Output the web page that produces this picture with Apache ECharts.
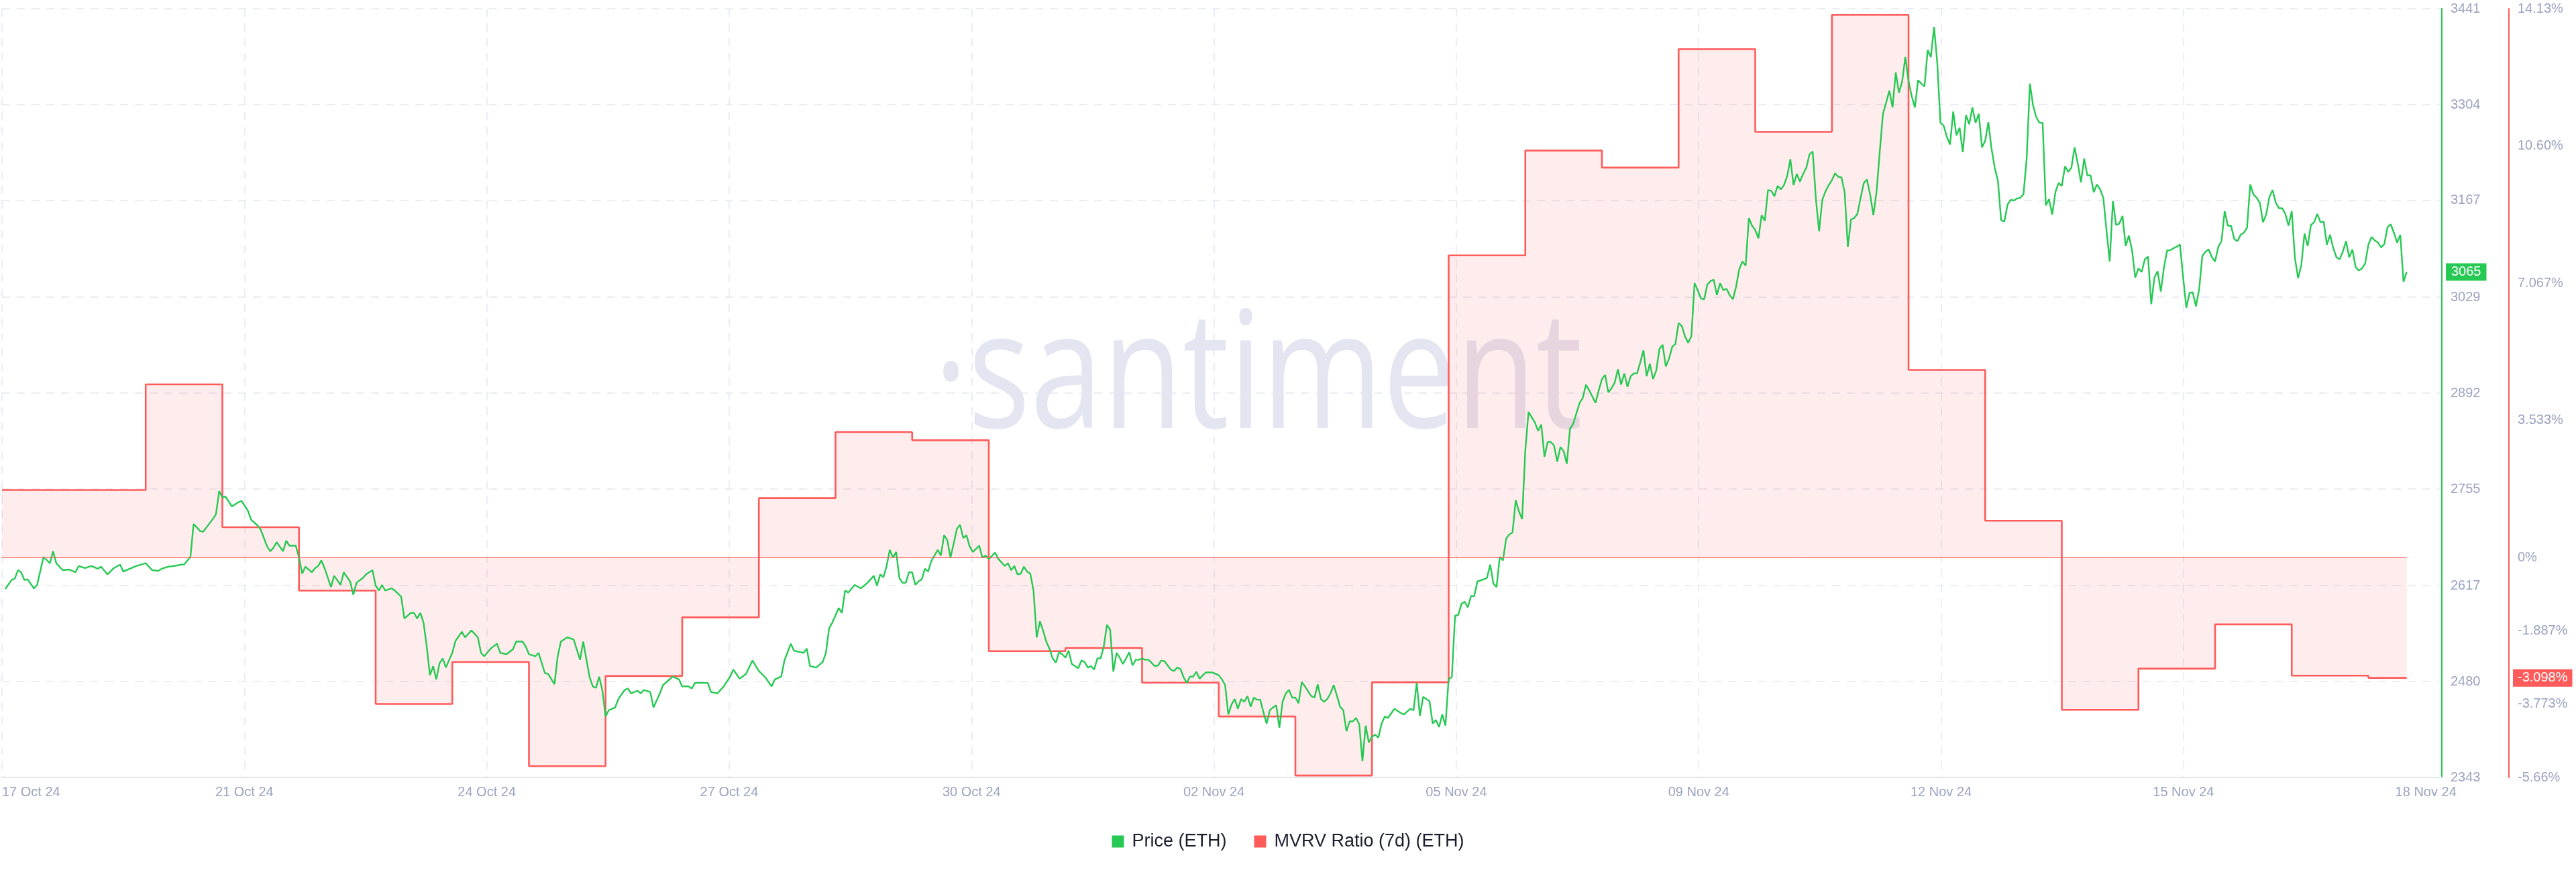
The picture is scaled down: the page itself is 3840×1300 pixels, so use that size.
<!DOCTYPE html>
<html>
<head>
<meta charset="utf-8">
<script src="https://cdn.jsdelivr.net/npm/echarts@6/dist/echarts.min.js"></script>
<style>
  html, body { margin: 0; padding: 0; background: #ffffff; }
  #chart { width: 3840px; height: 1300px; }
</style>
</head>
<body>
<div id="chart"></div>
<script>
// ---------- DATA ----------
// x axis: hours since chart start (17 Oct 24, evening)
const xTickLabels = ['17 Oct 24', '21 Oct 24', '24 Oct 24', '27 Oct 24', '30 Oct 24', '02 Nov 24',
                     '05 Nov 24', '09 Nov 24', '12 Nov 24', '15 Nov 24', '18 Nov 24'];
const xTickStepHours = 75.9;
const xEndHours = 764;

const priceTicks = [2343, 2480, 2617, 2755, 2892, 3029, 3167, 3304, 3441];
const mvrvTicks = [-5.66, -3.773, -1.887, 0, 3.533, 7.067, 10.60, 14.13];
const mvrvTickLabels = ['-5.66%', '-3.773%', '-1.887%', '0%', '3.533%', '7.067%', '10.60%', '14.13%'];

// Price (ETH): [hour, USD]
const pricePoints = [
[1,2612],[3,2625],[4,2627],[5,2639],[6,2636],[7,2625],[8,2626],[10,2613],[11,2618],[13,2658],[15,2649],[16,2666],[17,2649],[19,2639],[21,2640],[23,2636],[24,2645],[26,2642],[28,2645],[30,2641],[31,2644],[33,2633],[35,2642],[37,2647],[38,2637],[40,2641],[42,2645],[45,2649],[47,2639],[49,2638],[50,2641],[52,2644],[54,2645],[56,2647],[57,2647],[59,2658],
[60,2705],[62,2695],[63,2694],[64,2700],[66,2712],[67,2719],[68,2752],[69,2743],[70,2744],[72,2730],[74,2736],[75,2738],[77,2724],[78,2711],[80,2703],[81,2697],[83,2673],[84,2666],[85,2671],[86,2679],[88,2666],[89,2681],[90,2674],[92,2674],[93,2657],[94,2634],[95,2644],[97,2636],[98,2642],[99,2645],[100,2653],[101,2642],[103,2615],[104,2631],[106,2618],[107,2636],[109,2623],[110,2604],[111,2621],[113,2628],[114,2633],[116,2639],[117,2617],[118,2610],[119,2618],[120,2610],[122,2613],[123,2610],[125,2601],[126,2570],[128,2578],[129,2578],[130,2570],[131,2578],[132,2564],[133,2530],[134,2489],[135,2502],[136,2483],[137,2506],[138,2513],[139,2500],
[141,2521],[142,2538],[144,2551],[145,2543],[147,2553],[149,2543],[150,2521],[151,2516],[153,2527],[155,2534],[156,2521],[158,2519],[160,2526],[161,2537],[163,2537],[164,2530],[165,2519],[167,2516],[168,2521],[170,2492],[171,2491],[173,2476],[174,2516],[175,2537],[177,2543],[179,2540],[181,2511],[182,2537],[184,2486],[185,2473],[186,2471],[187,2487],[188,2467],[189,2430],[190,2439],[192,2443],[193,2455],[195,2468],[196,2470],[197,2463],[199,2467],[200,2463],[201,2468],[203,2465],[204,2443],[206,2463],[207,2475],[209,2483],[210,2487],[212,2483],[213,2473],[215,2473],[216,2470],[217,2478],[219,2478],[221,2478],[222,2465],[224,2463],[226,2473],[228,2487],[229,2497],[231,2484],[233,2491],[235,2510],[237,2495],[239,2486],
[241,2473],[242,2483],[244,2487],[245,2510],[247,2534],[248,2524],[251,2521],[252,2527],[253,2502],[255,2500],[257,2508],[258,2521],[259,2556],[260,2564],[262,2585],[263,2578],[264,2610],[265,2607],[267,2618],[269,2613],[271,2621],[273,2631],
[274,2617],[275,2633],[276,2629],[277,2645],[278,2668],[279,2657],[280,2665],[281,2628],[282,2621],[283,2621],[284,2636],[285,2636],[286,2618],[287,2623],[288,2626],[289,2641],[290,2637],[291,2652],[293,2668],[294,2660],[295,2689],[296,2682],[297,2657],[298,2677],[299,2698],[300,2704],[301,2685],[302,2689],[303,2673],[304,2665],[306,2674],[307,2657],[308,2660],[309,2655],[311,2664],[312,2655],[314,2645],[315,2649],[316,2639],[317,2645],[318,2633],[319,2634],[320,2644],[321,2637],[322,2634],[323,2610],
[324,2543],[325,2566],[326,2553],[327,2537],[328,2527],[329,2513],[330,2507],[331,2522],[332,2519],[333,2514],[334,2524],[335,2505],[336,2502],[337,2499],[338,2510],[339,2508],[340,2500],[341,2502],[342,2497],[343,2513],[344,2513],[345,2530],[346,2561],[347,2554],[348,2494],[349,2521],[350,2514],[351,2505],[352,2513],[353,2522],[354,2503],[355,2511],[356,2511],[357,2513],[358,2511],[359,2511],[361,2502],[362,2503],[363,2510],[364,2509],[365,2503],[366,2497],[367,2495],[368,2500],[369,2498],[370,2486],[371,2478],[372,2487],[373,2487],[374,2494],[375,2484],[376,2489],[377,2493],[379,2493],[381,2489],[382,2483],[383,2475],
[384,2433],[385,2447],[386,2455],[387,2441],[388,2455],[389,2451],[390,2459],[391,2444],[392,2457],[393,2454],[394,2454],[395,2436],[396,2420],[397,2439],[398,2443],[399,2446],[400,2414],[401,2451],[402,2463],[403,2468],[404,2457],[405,2457],[406,2449],[407,2479],[408,2473],[410,2459],[411,2457],[412,2476],[413,2455],[414,2451],[415,2455],[416,2463],[417,2475],[418,2460],[419,2444],[420,2439],[421,2409],[422,2423],[423,2423],[424,2428],[425,2419],[426,2366],[427,2417],[428,2393],[429,2401],[430,2404],[431,2400],[432,2420],[433,2430],[434,2428],[436,2441],[437,2438],[438,2435],[439,2433],[441,2441],[442,2439],[443,2478],[444,2431],[445,2458],[446,2455],[447,2452],[448,2420],[449,2425],[450,2415],[451,2433],[452,2417],
[453,2484],[454,2486],[455,2574],[456,2575],[457,2591],[458,2594],[459,2586],[460,2602],[461,2602],[462,2623],[464,2626],[465,2628],[466,2647],[467,2620],[468,2615],[469,2658],[470,2653],[471,2684],
[472,2690],[473,2693],[474,2739],[475,2723],[476,2712],[477,2810],[478,2865],[480,2850],[481,2838],[482,2847],[483,2801],[484,2822],[485,2822],[486,2817],[487,2794],[488,2815],[489,2809],[490,2791],[491,2841],[492,2848],[494,2878],[495,2885],[496,2904],[497,2896],[499,2878],[500,2896],[501,2912],[502,2918],[503,2893],[504,2899],[505,2907],[506,2926],[507,2904],[508,2920],[509,2901],[510,2916],[511,2920],[512,2920],[513,2936],[514,2953],[515,2916],[516,2934],[517,2912],[518,2924],[519,2955],[520,2961],[521,2930],[522,2941],[523,2958],[524,2962],[525,2992],[526,2988],[527,2973],[528,2964],[529,2973],
[530,3049],[531,3039],[532,3027],[533,3026],[534,3047],[535,3052],[536,3054],[537,3032],[538,3049],[539,3039],[540,3041],[541,3032],[542,3026],[543,3044],[544,3069],[545,3080],[546,3074],[547,3142],[548,3131],[549,3125],[550,3113],[551,3146],[552,3138],[553,3182],[554,3181],[555,3173],[556,3188],[557,3183],[558,3189],[559,3202],[560,3226],[561,3189],[562,3205],[563,3194],[564,3205],[565,3214],[566,3233],[567,3237],[568,3169],[569,3123],[570,3168],[571,3180],[572,3189],[573,3196],[574,3206],[575,3201],[576,3200],[577,3179],[578,3101],[579,3140],[580,3142],[581,3148],[582,3171],[583,3192],[584,3197],[585,3175],[586,3146],[587,3180],[588,3237],[589,3291],[590,3307],
[591,3324],[592,3300],[593,3350],[594,3321],[595,3337],[596,3372],[597,3338],[598,3316],[599,3300],[600,3339],[601,3334],[602,3330],[603,3382],[604,3372],[605,3415],[606,3364],[607,3278],[608,3274],[609,3258],[610,3247],[611,3294],[612,3260],[613,3271],[614,3236],[615,3289],[616,3276],[617,3300],[618,3278],[619,3291],[620,3243],[621,3252],[622,3279],[623,3241],[624,3214],[625,3195],[626,3139],[627,3137],[628,3161],[629,3168],[630,3167],[631,3170],[632,3171],[633,3176],[634,3227],[635,3334],[636,3303],[637,3286],[638,3278],[639,3278],
[640,3160],[641,3169],[642,3147],[643,3179],[644,3192],[645,3188],[646,3216],[647,3208],[648,3214],[649,3243],[650,3220],[651,3193],[652,3227],[653,3203],[654,3203],[655,3179],[656,3190],[657,3183],[658,3171],[659,3124],[660,3080],[661,3166],[662,3132],[663,3134],[664,3145],[665,3102],[666,3117],[667,3096],[668,3057],[669,3070],[670,3065],[671,3083],[672,3087],[673,3019],[674,3057],[675,3066],[676,3037],[677,3072],[678,3096],[679,3096],[680,3099],[681,3101],[682,3104],[683,3057],[684,3014],[685,3035],[686,3036],[687,3016],[688,3040],[689,3088],
[690,3094],[691,3097],[692,3086],[693,3080],[694,3101],[695,3109],[696,3152],[697,3131],[698,3131],[699,3112],[700,3109],[701,3118],[702,3121],[703,3128],[704,3190],[705,3176],[706,3171],[707,3164],[708,3136],[709,3147],[710,3172],[711,3182],[712,3164],[713,3156],[714,3156],[715,3148],[716,3131],[717,3152],[718,3085],[719,3056],[720,3075],[721,3120],[722,3102],[723,3132],[724,3136],[725,3148],[726,3136],[727,3137],[728,3104],[729,3118],[730,3099],[731,3086],[732,3083],[733,3094],[734,3109],[735,3086],[736,3097],[737,3072],[738,3067],[739,3070],[740,3077],[741,3104],[742,3115],[743,3110],[744,3107],[745,3100],[746,3105],[747,3129],[748,3133],[749,3121],[750,3107],[751,3118],[752,3051],[753,3065]
];

// MVRV Ratio (7d) (ETH), % — one value per day; first daily change at hour 45
const mvrvFirstChangeHour = 45;
const mvrvValues = [1.74, 4.46, 0.78, -0.85, -3.77, -2.69, -5.37, -3.05, -1.54, 1.53,
                    3.23, 3.02, -2.41, -2.33, -3.22, -4.09, -5.61, -3.21, 7.78, 10.48,
                    10.04, 13.09, 10.96, 13.97, 4.83, 0.95, -3.92, -2.86, -1.72, -3.04, -3.098];

const latestPrice = 3065;
const latestMvrv = -3.098;

// ---------- BUILD ----------
const FONT = '"Liberation Sans", Arial, sans-serif';
const GREEN = '#26C953';
const RED = '#FF5B5B';
const LABEL = '#9aa4c0';
const GRIDC = '#e4e7f0';

const lastHour = pricePoints[pricePoints.length - 1][0];
const mvrvData = mvrvValues.map((v, i) => [i === 0 ? 0 : mvrvFirstChangeHour + (i - 1) * 24, v]);
mvrvData.push([lastHour, mvrvValues[mvrvValues.length - 1]]);
const xTickHours = xTickLabels.map((_, i) => i * xTickStepHours);

const chart = echarts.init(document.getElementById('chart'), null, { renderer: 'canvas' });
chart.setOption({
  animation: false,
  backgroundColor: '#ffffff',
  grid: { left: 0, right: 200, top: 13, bottom: 141, containLabel: false },
  legend: {
    data: ['Price (ETH)', 'MVRV Ratio (7d) (ETH)'],
    left: 'center',
    top: 1236,
    icon: 'rect',
    itemWidth: 18,
    itemHeight: 18,
    itemGap: 41,
    textStyle: { color: '#1c1e2e', fontSize: 27, fontFamily: FONT, padding: [0, 0, 0, 7] }
  },
  graphic: [{
    type: 'text',
    x: 1392,
    y: 690,
    scaleX: 0.8,
    z: 0,
    silent: true,
    style: {
      text: '\u00b7santiment',
      x: 0,
      y: 0,
      textAlign: 'left',
      textVerticalAlign: 'bottom',
      fontSize: 243,
      fontFamily: '"Open Sans", sans-serif',
      fill: 'rgba(196, 201, 226, 0.48)'
    }
  }],
  xAxis: {
    type: 'value',
    min: 0,
    max: xEndHours,
    axisLine: { show: true, onZero: false, lineStyle: { color: GRIDC, width: 2 } },
    axisTick: { show: false, customValues: xTickHours.slice(0, -1) },
    axisLabel: {
      customValues: xTickHours,
      formatter: v => xTickLabels[Math.round(v / xTickStepHours)],
      color: LABEL, fontSize: 20, fontFamily: FONT, margin: 12,
      alignMinLabel: 'left'
    },
    splitLine: { show: true, lineStyle: { color: GRIDC, width: 1.5, type: [12, 10] } }
  },
  yAxis: [{
    type: 'value',
    position: 'right',
    min: priceTicks[0],
    max: priceTicks[priceTicks.length - 1],
    axisLine: { show: true, onZero: false, lineStyle: { color: GREEN, width: 2 } },
    axisTick: { show: false, customValues: priceTicks },
    axisLabel: {
      customValues: priceTicks,
      formatter: v => String(Math.round(v)),
      color: LABEL, fontSize: 20, fontFamily: FONT, margin: 13
    },
    splitLine: { show: true, lineStyle: { color: GRIDC, width: 1.5, type: [12, 10] } }
  }, {
    type: 'value',
    position: 'right',
    offset: 100,
    min: mvrvTicks[0],
    max: mvrvTicks[mvrvTicks.length - 1],
    axisLine: { show: true, onZero: false, lineStyle: { color: RED, width: 2 } },
    axisTick: { show: false, customValues: mvrvTicks },
    axisLabel: {
      customValues: mvrvTicks,
      formatter: v => {
        let best = 0;
        mvrvTicks.forEach((t, i) => { if (Math.abs(t - v) < Math.abs(mvrvTicks[best] - v)) best = i; });
        return mvrvTickLabels[best];
      },
      color: LABEL, fontSize: 20, fontFamily: FONT, margin: 13
    },
    splitLine: { show: false }
  }],
  series: [{
    name: 'Price (ETH)',
    type: 'line',
    xAxisIndex: 0,
    yAxisIndex: 0,
    data: pricePoints,
    showSymbol: false,
    symbol: 'none',
    clip: false,
    z: 4,
    lineStyle: { color: GREEN, width: 2.4 },
    itemStyle: { color: GREEN },
    markLine: {
      silent: true,
      symbol: ['none', 'none'],
      lineStyle: { color: 'rgba(0,0,0,0)', width: 0 },
      label: {
        show: true, position: 'end', distance: 6,
        formatter: () => String(latestPrice),
        backgroundColor: GREEN, color: '#ffffff', fontSize: 20, fontFamily: FONT,
        padding: [3, 8, 3, 8]
      },
      data: [{ yAxis: latestPrice }]
    }
  }, {
    name: 'MVRV Ratio (7d) (ETH)',
    type: 'line',
    xAxisIndex: 0,
    yAxisIndex: 1,
    data: mvrvData,
    step: 'end',
    showSymbol: false,
    symbol: 'none',
    clip: false,
    z: 3,
    lineStyle: { color: RED, width: 2.6 },
    itemStyle: { color: RED },
    areaStyle: { color: 'rgba(255, 91, 91, 0.17)', origin: 0 },
    markLine: {
      silent: true,
      symbol: ['none', 'none'],
      precision: 3,
      lineStyle: { color: RED, width: 1, type: 'solid', opacity: 1 },
      data: [
        [{ coord: [0, 0], lineStyle: { color: RED, width: 1, type: 'solid' }, label: { show: false } },
         { coord: [lastHour, 0] }],
        { yAxis: latestMvrv, lineStyle: { color: 'rgba(0,0,0,0)', width: 0 },
          label: {
            show: true, position: 'end', distance: 106,
            formatter: () => latestMvrv.toFixed(3) + '%',
            backgroundColor: RED, color: '#ffffff', fontSize: 20, fontFamily: FONT,
            padding: [3, 7, 3, 7]
          } }
      ]
    }
  }]
});
</script>
</body>
</html>
